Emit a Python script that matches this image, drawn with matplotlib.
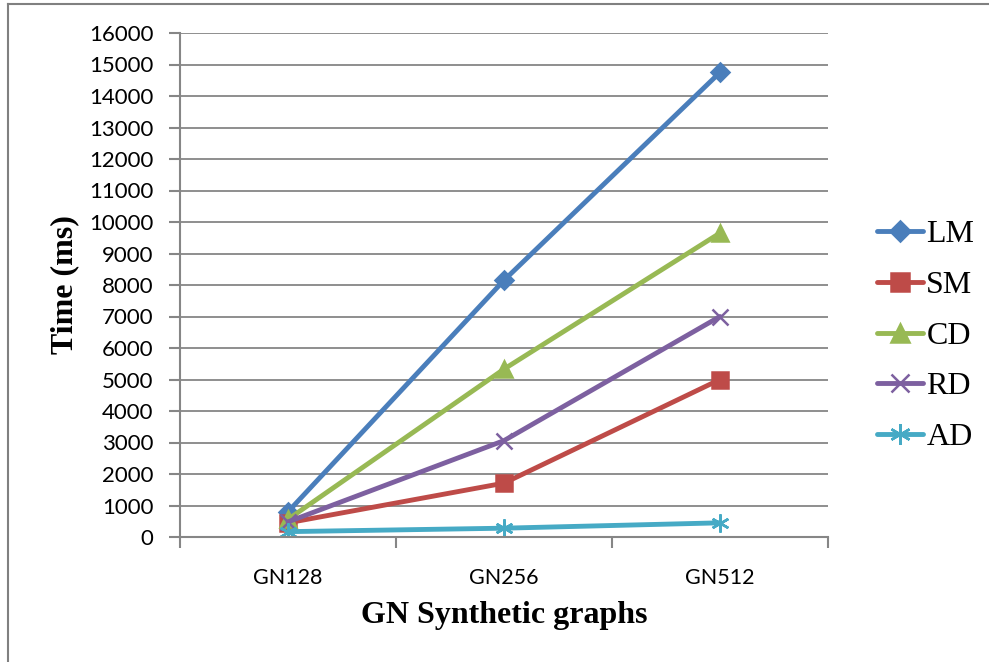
import matplotlib.pyplot as plt
import numpy as np

# data
graphs = ['GN128', 'GN256', 'GN512']
lm = [800, 8150, 14750]
sm = [450, 1710, 5000]
cd = [560, 5330, 9650]
rd = [480, 3060, 7000]
ad = [170, 280, 450]

series = [
    ('LM', lm, '#4A7EBB', 'D', 9),
    ('SM', sm, '#BE4B48', 's', 11),
    ('CD', cd, '#98B954', '^', 11),
    ('RD', rd, '#7D60A0', 'x', 11),
    ('AD', ad, '#46AAC5', (6, 2, 0), 13),
]

fig = plt.figure(figsize=(9.89, 6.62), dpi=100)
ax = fig.add_axes([180/989, 125/662, 648/989, 504/662])

x = np.arange(len(graphs))
for name, vals, color, marker, ms in series:
    ax.plot(x, vals, color=color, linewidth=3.5, marker=marker, markersize=ms,
            markerfacecolor=color, markeredgecolor=color, markeredgewidth=1.8,
            label=name, solid_capstyle='round')

ax.set_xlim(-0.5, 2.5)
ax.set_ylim(0, 16000)
ax.set_yticks(np.arange(0, 16001, 1000))
ax.set_xticks(np.arange(-0.5, 2.6, 1.0))
ax.set_xticklabels([])
ax.set_xticks(x, minor=True)
ax.set_xticklabels(graphs, minor=True)
ax.tick_params(axis='x', which='minor', length=0, pad=22, labelsize=15.5)
ax.tick_params(axis='x', which='major', length=8, width=1.5, color='#868686', direction='out')
ax.tick_params(axis='y', length=8, width=1.5, color='#868686', direction='out', labelsize=16, pad=11)
for lbl in ax.get_xticklabels(minor=True) + ax.get_yticklabels():
    lbl.set_fontfamily('Lato')

ax.grid(axis='y', color='#868686', linewidth=1.3)
ax.set_axisbelow(True)
for s in ['top', 'right']:
    ax.spines[s].set_visible(False)
for s in ['left', 'bottom']:
    ax.spines[s].set_color('#868686')
    ax.spines[s].set_linewidth(1.5)

ax.set_xlabel('GN Synthetic graphs', fontfamily='Liberation Serif', fontweight='bold',
              fontsize=23, labelpad=10)
ax.set_ylabel('Time (ms)', fontfamily='Liberation Serif', fontweight='bold',
              fontsize=23, labelpad=7)

fig.legend(loc='center left', bbox_to_anchor=(864/989, 1 - 336/662), frameon=False,
           prop={'family': 'Liberation Serif', 'size': 23}, handlelength=1.45,
           labelspacing=0.67, handletextpad=0.1, borderaxespad=0, markerscale=1.15)

# page border (left and top edges)
fig.add_artist(plt.Line2D([8/989, 8/989], [0, 1 - 4/662], color='#808080', linewidth=1.5,
                          transform=fig.transFigure))
fig.add_artist(plt.Line2D([8/989, 1], [1 - 4/662, 1 - 4/662], color='#808080', linewidth=1.5,
                          transform=fig.transFigure))

fig.savefig('out.png', dpi=100)
